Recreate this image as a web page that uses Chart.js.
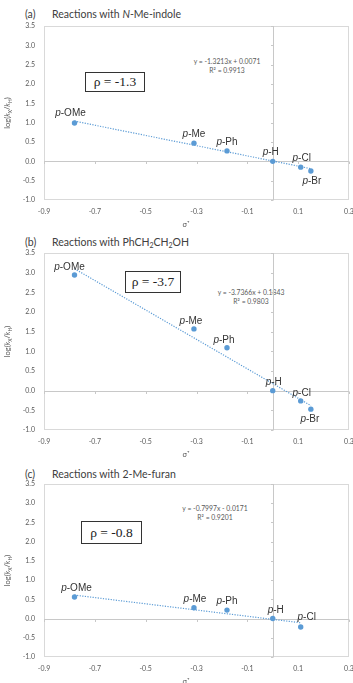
<!DOCTYPE html>
<html>
<head>
<meta charset="utf-8">
<script src="https://cdn.jsdelivr.net/npm/chart.js@4.4.1/dist/chart.umd.min.js"></script>
<style>
  body { margin:0; background:#fff; width:353px; height:683px; overflow:hidden; position:relative; font-family:Lato, "Liberation Sans", sans-serif; }
  canvas { position:absolute; left:0; }
  .ttl { position:absolute; font-size:10.5px; color:#404040; white-space:nowrap; line-height:12px; }
  .ttl sub { font-size:7px; vertical-align:-2px; line-height:0; }
  .rho { position:absolute; border:1.4px solid #333; font-family:"Liberation Serif", "DejaVu Serif", serif; font-size:13.5px; color:#222; text-align:center; box-sizing:border-box; }
  .eq { position:absolute; font-size:6.8px; color:#595959; text-align:center; white-space:nowrap; line-height:8.5px; }
</style>
</head>
<body>
<div class="ttl" style="left:25px;top:8px">(a)</div>
<div class="ttl" style="left:52px;top:8px">Reactions with <i>N</i>-Me-indole</div>
<div class="ttl" style="left:25px;top:236px">(b)</div>
<div class="ttl" style="left:52px;top:236px">Reactions with PhCH<sub>2</sub>CH<sub>2</sub>OH</div>
<div class="ttl" style="left:25px;top:468px">(c)</div>
<div class="ttl" style="left:52px;top:468px">Reactions with 2-Me-furan</div>

<div class="rho" style="left:85px;top:72px;width:60px;height:20px;line-height:18px">ρ = -1.3</div>
<div class="rho" style="left:125px;top:271px;width:56px;height:22px;line-height:20px">ρ = -3.7</div>
<div class="rho" style="left:81px;top:521px;width:61px;height:23px;line-height:21px">ρ = -0.8</div>

<div class="eq" style="left:182px;top:57px;width:90px">y = -1.3213x + 0.0071<br>R² = 0.9913</div>
<div class="eq" style="left:206px;top:288px;width:90px">y = -3.7366x + 0.1843<br>R² = 0.9803</div>
<div class="eq" style="left:170px;top:504px;width:90px">y = -0.7997x - 0.0171<br>R² = 0.9201</div>

<canvas id="cA" width="353" height="230" style="top:0"></canvas>
<canvas id="cB" width="353" height="230" style="top:230px"></canvas>
<canvas id="cC" width="353" height="223" style="top:460px"></canvas>

<script>
// substituents and sigma+ constants
var subst = ['p-OMe', 'p-Me', 'p-Ph', 'p-H', 'p-Cl', 'p-Br'];
var sigmaPlus = [-0.78, -0.31, -0.18, 0, 0.11, 0.15];

// log(kX/kH)
var logA = [0.99, 0.47, 0.27, 0, -0.15, -0.25];
var logB = [2.94, 1.57, 1.09, 0, -0.26, -0.47];
var logC = [0.56, 0.28, 0.22, 0, -0.22];

// trend line ends (first and last point)
var trendXA = [-0.78, 0.15], trendA = [1.04, -0.19];
var trendXB = [-0.78, 0.15], trendB = [3.10, -0.38];
var trendXC = [-0.78, 0.11], trendC = [0.61, -0.11];

var xTicks = [-0.9, -0.7, -0.5, -0.3, -0.1, 0.1, 0.3];
var yTicks = [-1.0, -0.5, 0.0, 0.5, 1.0, 1.5, 2.0, 2.5, 3.0, 3.5];

var blue = '#5B9BD5';
var grey = '#595959';

// label offsets in px from the point
var offA = [[-4,-10],[0,-9],[0,-9],[-2,-9],[1,-9],[1,10]];
var offB = [[-5,-8],[-3,-8],[-3,-8],[1,-8],[1,-8],[-1,10]];
var offC = [[2,-9],[1,-9],[0,-9],[3,-8],[6,-10]];

function drawLabel(ctx, txt, cx, cy) {
    var p = txt.substr(0,1), rest = txt.substr(1);
    ctx.font = 'italic 10px "Liberation Sans"';
    var w1 = ctx.measureText(p).width;
    ctx.font = '10px "Liberation Sans"';
    var w2 = ctx.measureText(rest).width;
    var x0 = cx - (w1 + w2) / 2;
    ctx.textBaseline = 'middle';
    ctx.textAlign = 'left';
    ctx.fillStyle = '#333';
    ctx.font = 'italic 10px "Liberation Sans"';
    ctx.fillText(p, x0, cy);
    ctx.font = '10px "Liberation Sans"';
    ctx.fillText(rest, x0 + w1, cy);
}

function decor(vals, offs) {
    return {
        id: 'decor',
        beforeDatasetsDraw(chart) {
            var ctx = chart.ctx, a = chart.chartArea, x = chart.scales.x, y = chart.scales.y;
            ctx.save();
            ctx.lineWidth = 1;
            ctx.strokeStyle = '#d9d9d9';
            ctx.strokeRect(a.left + 0.5, a.top + 0.5, a.width - 1, a.height - 1);
            var x0 = Math.round(x.getPixelForValue(0)) + 0.5;
            var y0 = Math.round(y.getPixelForValue(0)) + 0.5;
            ctx.strokeStyle = '#c8c8c8';
            ctx.beginPath();
            ctx.moveTo(x0, a.top); ctx.lineTo(x0, a.bottom);
            ctx.moveTo(a.left, y0); ctx.lineTo(a.right, y0);
            xTicks.forEach(function (v) {
                var px = Math.round(x.getPixelForValue(v)) + 0.5;
                ctx.moveTo(px, y0); ctx.lineTo(px, y0 + 2.5);
            });
            yTicks.forEach(function (v) {
                var py = Math.round(y.getPixelForValue(v)) + 0.5;
                ctx.moveTo(x0 - 2.5, py); ctx.lineTo(x0, py);
            });
            ctx.stroke();
            ctx.restore();
        },
        afterDraw(chart) {
            var ctx = chart.ctx, a = chart.chartArea, x = chart.scales.x, y = chart.scales.y;
            ctx.save();
            vals.forEach(function (v, i) {
                drawLabel(ctx, subst[i], x.getPixelForValue(sigmaPlus[i]) + offs[i][0], y.getPixelForValue(v) + offs[i][1]);
            });
            // x title
            ctx.fillStyle = grey;
            ctx.textAlign = 'center';
            ctx.textBaseline = 'middle';
            ctx.font = '7.5px Lato';
            ctx.fillText('σ⁺', 186, a.bottom + 25);
            // y title log(kX/kH)
            ctx.translate(8, (a.top + a.bottom) / 2);
            ctx.rotate(-Math.PI / 2);
            var parts = [['log(', '7.5px Lato', 0], ['k', 'italic 7.5px Lato', 0], ['X', '5px Lato', 2],
                         ['/', '7.5px Lato', 0], ['k', 'italic 7.5px Lato', 0], ['H', '5px Lato', 2], [')', '7.5px Lato', 0]];
            var tw = 0;
            parts.forEach(function (p) { ctx.font = p[1]; tw += ctx.measureText(p[0]).width; });
            var cx = -tw / 2;
            ctx.textAlign = 'left';
            parts.forEach(function (p) {
                ctx.font = p[1];
                ctx.fillText(p[0], cx, p[2]);
                cx += ctx.measureText(p[0]).width;
            });
            ctx.restore();
        }
    };
}

function makeChart(id, vals, tx, ty, offs, padTop, xHeight) {
    var pts = vals.map(function (v, i) { return { x: sigmaPlus[i], y: v }; });
    var trend = tx.map(function (v, i) { return { x: v, y: ty[i] }; });
    return new Chart(document.getElementById(id), {
        type: 'scatter',
        data: {
            datasets: [
                { data: trend, showLine: true, borderColor: blue, borderWidth: 1.2, borderDash: [1.2, 1.4], pointRadius: 0, fill: false },
                { data: pts, backgroundColor: blue, borderWidth: 0, pointRadius: 2.7 }
            ]
        },
        options: {
            responsive: false,
            animation: false,
            events: [],
            layout: { padding: { top: padTop, right: 4, left: 0, bottom: 0 } },
            plugins: { legend: { display: false }, tooltip: { enabled: false } },
            scales: {
                x: {
                    type: 'linear', min: -0.9, max: 0.3,
                    afterBuildTicks: function (s) { s.ticks = xTicks.map(function (v) { return { value: v }; }); },
                    afterFit: function (s) { s.height = xHeight; s.paddingLeft = 0; s.paddingRight = 0; },
                    grid: { display: false, drawTicks: false },
                    border: { display: false },
                    ticks: { autoSkip: false, maxRotation: 0, padding: 8, color: grey, font: { family: 'Lato', size: 7 },
                             callback: function (v) { return String(+v.toFixed(1)); } }
                },
                y: {
                    min: -1, max: 3.5,
                    afterBuildTicks: function (s) { s.ticks = yTicks.map(function (v) { return { value: v }; }); },
                    afterFit: function (s) { s.width = 44; s.paddingTop = 0; s.paddingBottom = 0; },
                    grid: { display: false, drawTicks: false },
                    border: { display: false },
                    ticks: { autoSkip: false, padding: 9, color: grey, font: { family: 'Lato', size: 7 },
                             callback: function (v) { return v.toFixed(1); } }
                }
            }
        },
        plugins: [decor(vals, offs)]
    });
}

makeChart('cA', logA, trendXA, trendA, offA, 26, 30);
makeChart('cB', logB, trendXB, trendB, offB, 23, 30);
makeChart('cC', logC, trendXC, trendC, offC, 24, 26);
</script>
</body>
</html>
